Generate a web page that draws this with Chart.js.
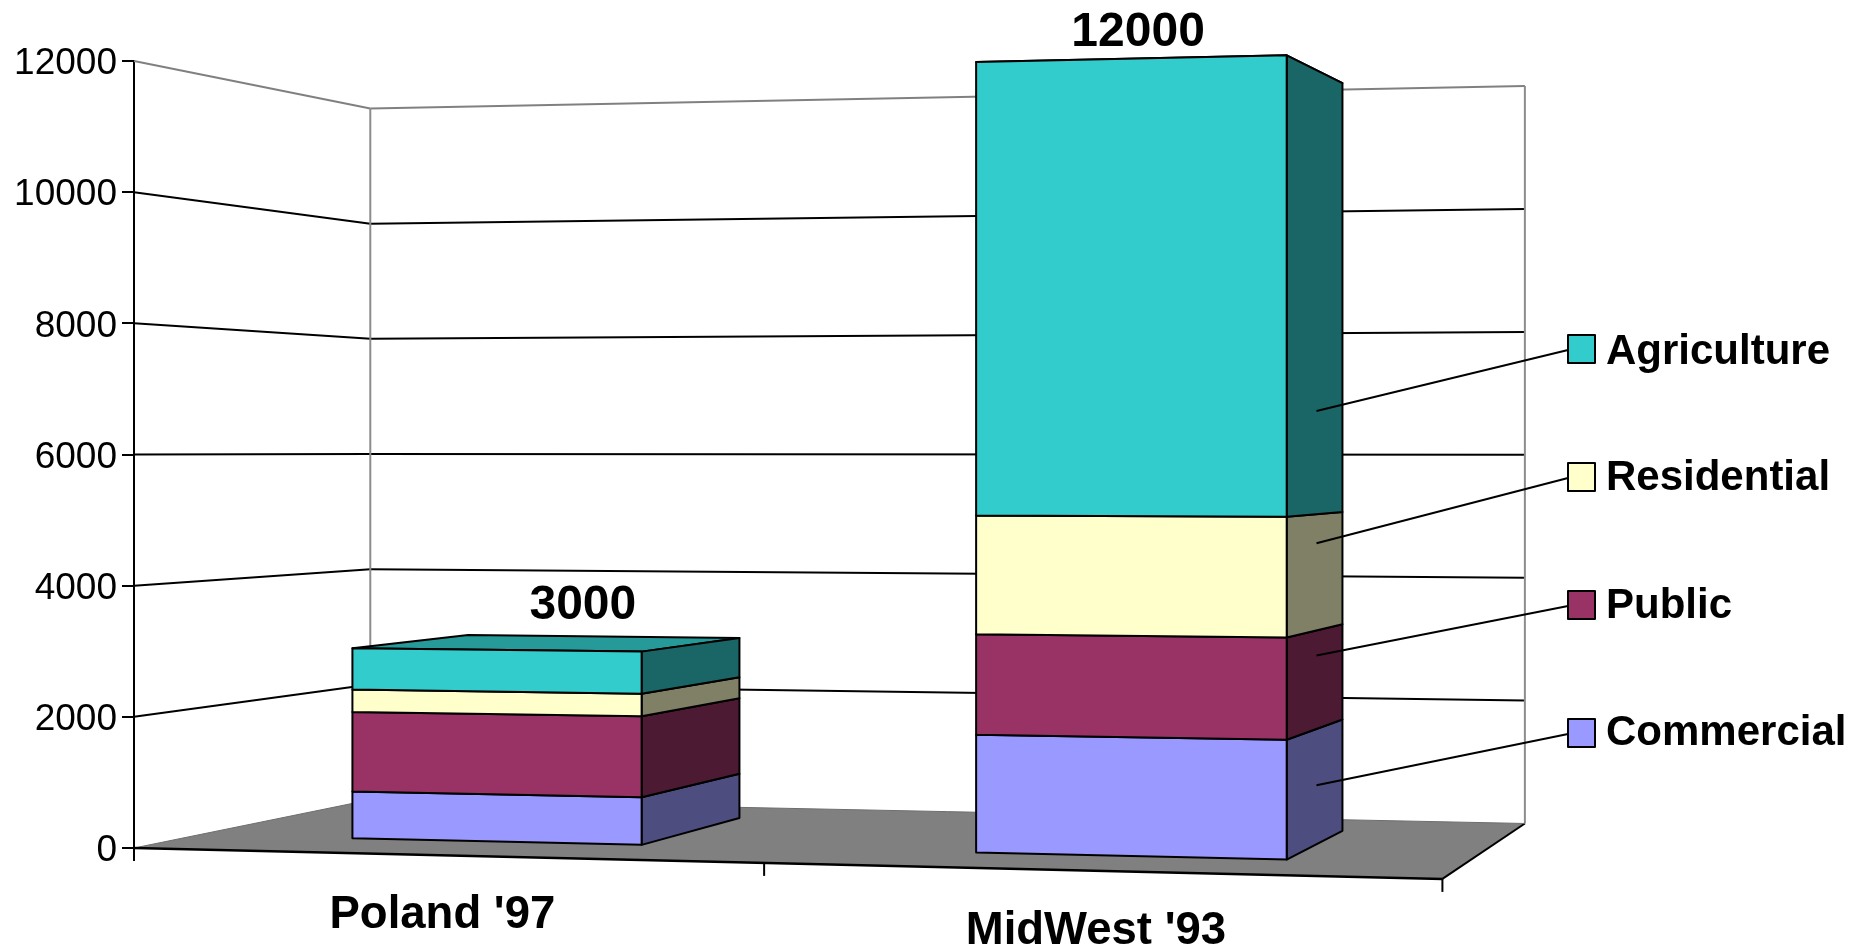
<!DOCTYPE html>
<html>
<head>
<meta charset="utf-8">
<title>Stacked bars</title>
<script src="https://cdn.jsdelivr.net/npm/chart.js@4/dist/chart.umd.min.js"></script>
<style>
  html, body { margin: 0; background: #fff; }
  canvas { display: block; }
</style>
</head>
<body>
<canvas id="barChart" width="1872" height="949"></canvas>
<script>
const categories = ["Poland '97", "MidWest '93"]
const seriesNames = ['Commercial', 'Public', 'Residential', 'Agriculture']
const commercial = [750, 1800]
const publicUse = [1250, 1525]
const residential = [350, 1800]
const agriculture = [650, 6875]
const yTicks = [0, 2000, 4000, 6000, 8000, 10000, 12000]

const frontColors = ['#9999FF', '#993366', '#FFFFCC', '#33CCCC']
const sideColors = ['#4D4D80', '#4D1A33', '#808066', '#1A6666']
const topColor = '#269999'

// Perspective of the box: how far the floor shifts and shrinks with depth
const persp = { g: -0.071, i: 0.1383, c: 287.5, e: -31.5, k: 62.4 }
const barFront = 0.28
const barBack = 0.815
const barNudgeX = [-9.5, -5]
const barNudgeY = 2.8

const FONT = '"Liberation Sans", Arial, sans-serif'

// Takes a point on the flat chart plane plus a depth (0 front, 1 back)
function project (chart, px, py, depth) {
  const area = chart.chartArea
  const u = (px - area.left) / (area.right - area.left)
  const d = 1 + persp.g * u + persp.i * depth
  return [(px + persp.c * depth) / d, (py + persp.e * u + persp.k * depth) / d]
}

function poly (ctx, pts, fill, stroke, width) {
  ctx.beginPath()
  pts.forEach((p, i) => (i ? ctx.lineTo(p[0], p[1]) : ctx.moveTo(p[0], p[1])))
  ctx.closePath()
  if (fill) {
    ctx.fillStyle = fill
    ctx.fill()
  }
  if (stroke) {
    ctx.strokeStyle = stroke
    ctx.lineWidth = width
    ctx.stroke()
  }
}

function line (ctx, a, b, color, width) {
  ctx.beginPath()
  ctx.moveTo(a[0], a[1])
  ctx.lineTo(b[0], b[1])
  ctx.strokeStyle = color
  ctx.lineWidth = width
  ctx.stroke()
}

function drawWalls (chart, ctx) {
  const { left, right } = chart.chartArea
  const y = chart.scales.y

  yTicks.slice(1).forEach(v => {
    const py = y.getPixelForValue(v)
    const color = v === 12000 ? '#808080' : '#000'
    line(ctx, project(chart, left, py, 0), project(chart, left, py, 1), color, 2)
    line(ctx, project(chart, left, py, 1), project(chart, right, py, 1), color, 2)
  })

  const base = y.getPixelForValue(0)
  const top = y.getPixelForValue(12000)
  line(ctx, project(chart, left, base, 1), project(chart, left, top, 1), '#8c8c8c', 2)
  line(ctx, project(chart, right, base, 1), project(chart, right, top, 1), '#8c8c8c', 2)

  // floor
  const fl = project(chart, left, base, 0)
  const fr = project(chart, right, base, 0)
  const br = project(chart, right, base, 1)
  const bl = project(chart, left, base, 1)
  poly(ctx, [fl, fr, br, bl], '#808080')
  line(ctx, bl, fl, '#6e6e6e', 1)
  line(ctx, fl, fr, '#000', 2.5)
  line(ctx, fr, br, '#000', 2)
  line(ctx, bl, br, '#6e6e6e', 1)
}

function drawBars (chart, ctx) {
  categories.forEach((_, c) => {
    seriesNames.forEach((_, s) => {
      const bar = chart.getDatasetMeta(s).data[c]
      const x0 = bar.x - bar.width / 2 + barNudgeX[c]
      const x1 = bar.x + bar.width / 2 + barNudgeX[c]
      const yb = bar.base + barNudgeY
      const yt = bar.y + barNudgeY
      const a = project(chart, x0, yb, barFront)
      const b = project(chart, x1, yb, barFront)
      const d = project(chart, x0, yt, barFront)
      const e = project(chart, x1, yt, barFront)
      const f = project(chart, x1, yb, barBack)
      const h = project(chart, x1, yt, barBack)
      const k = project(chart, x0, yt, barBack)
      if (s === seriesNames.length - 1) {
        poly(ctx, [d, e, h, k], topColor, '#000', 2)
      }
      poly(ctx, [b, f, h, e], sideColors[s], '#000', 2)
      poly(ctx, [a, b, e, d], frontColors[s], '#000', 2)
    })
  })
}

function drawAxisLabels (chart, ctx) {
  const x = chart.scales.x
  const base = chart.scales.y.getPixelForValue(0)
  const step = x.getPixelForTick(1) - x.getPixelForTick(0)

  // ticks sit on the category boundaries of the slanted front edge
  for (let i = 0; i <= categories.length; i++) {
    const p = project(chart, x.getPixelForTick(0) + (i - 0.5) * step, base, 0)
    line(ctx, p, [p[0], p[1] + 13], '#000', 2)
  }

  ctx.fillStyle = '#000'
  ctx.textAlign = 'center'
  ctx.textBaseline = 'alphabetic'
  ctx.font = 'bold 45.5px ' + FONT
  categories.forEach((name, i) => {
    const p = project(chart, x.getPixelForTick(i), base, 0)
    ctx.fillText(name, p[0] - 1, p[1] + 73)
  })
}

const totalLabelShift = [[87, -31], [8, -13]]

function drawTotals (chart, ctx) {
  ctx.fillStyle = '#000'
  ctx.textAlign = 'center'
  ctx.textBaseline = 'alphabetic'
  ctx.font = 'bold 48px ' + FONT
  categories.forEach((_, c) => {
    const topBar = chart.getDatasetMeta(seriesNames.length - 1).data[c]
    const total = chart.data.datasets.reduce((sum, ds) => sum + ds.data[c], 0)
    const p = project(chart, topBar.x + barNudgeX[c], topBar.y + barNudgeY, barFront)
    ctx.fillText(String(total), p[0] + totalLabelShift[c][0], p[1] + totalLabelShift[c][1])
  })
}

// Key on the right, top entry is the last series, each with a leader into the tall bar
const keyTop = [335, 463, 591, 719]
const keyBaseline = [364, 490, 618, 745]
const leaderValues = [921, 2918, 4643, 6675]
const leaderDepth = 0.505

function drawKey (chart, ctx) {
  const bar = chart.getDatasetMeta(0).data[1]
  const y = chart.scales.y
  ctx.textAlign = 'left'
  ctx.textBaseline = 'alphabetic'
  ctx.font = 'bold 42px ' + FONT
  seriesNames.forEach((name, s) => {
    const row = seriesNames.length - 1 - s
    const top = keyTop[row]
    const from = project(chart, bar.x + bar.width / 2, y.getPixelForValue(leaderValues[s]), leaderDepth)
    line(ctx, from, [1568, top + 15], '#000', 2)
    poly(ctx, [[1568, top], [1595, top], [1595, top + 28], [1568, top + 28]], frontColors[s], '#000', 2)
    ctx.fillStyle = '#000'
    ctx.fillText(name, 1606, keyBaseline[row])
  })
}

const scenePlugin = {
  id: 'scene',
  beforeDatasetsDraw (chart) {
    const ctx = chart.ctx
    ctx.save()
    ctx.lineJoin = 'round'
    drawWalls(chart, ctx)
    drawBars(chart, ctx)
    drawAxisLabels(chart, ctx)
    drawTotals(chart, ctx)
    drawKey(chart, ctx)
    ctx.restore()
    return false // bars are painted above, in perspective
  }
}

new Chart(document.getElementById('barChart').getContext('2d'), {
  type: 'bar',
  data: {
    labels: categories,
    datasets: [
      { label: seriesNames[0], data: commercial, backgroundColor: frontColors[0] },
      { label: seriesNames[1], data: publicUse, backgroundColor: frontColors[1] },
      { label: seriesNames[2], data: residential, backgroundColor: frontColors[2] },
      { label: seriesNames[3], data: agriculture, backgroundColor: frontColors[3] }
    ]
  },
  plugins: [scenePlugin],
  options: {
    responsive: false,
    animation: false,
    layout: { padding: { top: 61, right: 532, left: 0, bottom: 0 } },
    categoryPercentage: 0.476,
    barPercentage: 1,
    plugins: { legend: { display: false }, tooltip: { enabled: false } },
    scales: {
      x: {
        stacked: true,
        grid: { display: false },
        border: { display: false },
        ticks: { display: false },
        afterFit (scale) { scale.height = 101 }
      },
      y: {
        stacked: true,
        min: 0,
        max: 12000,
        afterBuildTicks (scale) { scale.ticks = yTicks.map(value => ({ value })) },
        afterFit (scale) { scale.width = 134 },
        grid: { drawOnChartArea: false, color: '#000', lineWidth: 2, tickLength: 12 },
        border: { color: '#000', width: 2 },
        ticks: {
          color: '#000',
          padding: 5,
          labelOffset: 3,
          font: { family: FONT, size: 37 },
          callback: value => String(value)
        }
      }
    }
  }
})
</script>
</body>
</html>
